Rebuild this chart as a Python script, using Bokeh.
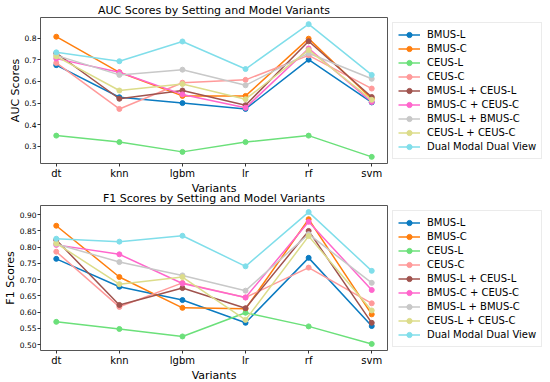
from bokeh.plotting import figure
from bokeh.models import Legend, FixedTicker, Range1d, CustomJSTickFormatter
from bokeh.layouts import column
from bokeh.embed import file_html
from bokeh.resources import INLINE

variants = ["dt", "knn", "lgbm", "lr", "rf", "svm"]
series_names = ["BMUS-L", "BMUS-C", "CEUS-L", "CEUS-C", "BMUS-L + CEUS-L",
                "BMUS-C + CEUS-C", "BMUS-L + BMUS-C", "CEUS-L + CEUS-C",
                "Dual Modal Dual View"]
colors = ["#0b7bc1", "#ff7f0e", "#6be07a", "#ff9a9a", "#a0534e",
          "#ff66cc", "#c8c8c8", "#dcdc8a", "#80deea"]

auc_bmus_l = [0.675, 0.527, 0.500, 0.473, 0.700, 0.503]
auc_bmus_c = [0.806, 0.642, 0.533, 0.533, 0.797, 0.520]
auc_ceus_l = [0.350, 0.320, 0.275, 0.320, 0.350, 0.252]
auc_ceus_c = [0.685, 0.473, 0.594, 0.607, 0.720, 0.567]
auc_bl_cl = [0.730, 0.520, 0.558, 0.490, 0.785, 0.528]
auc_bc_cc = [0.705, 0.642, 0.540, 0.478, 0.752, 0.505]
auc_bl_bc = [0.720, 0.630, 0.654, 0.582, 0.730, 0.612]
auc_cl_cc = [0.715, 0.558, 0.588, 0.518, 0.745, 0.515]
auc_dmdv = [0.734, 0.693, 0.784, 0.657, 0.864, 0.630]

f1_bmus_l = [0.764, 0.678, 0.637, 0.567, 0.767, 0.557]
f1_bmus_c = [0.866, 0.708, 0.613, 0.610, 0.886, 0.593]
f1_ceus_l = [0.570, 0.548, 0.525, 0.598, 0.556, 0.502]
f1_ceus_c = [0.786, 0.616, 0.690, 0.645, 0.737, 0.627]
f1_bl_cl = [0.822, 0.622, 0.674, 0.612, 0.850, 0.567]
f1_bc_cc = [0.807, 0.778, 0.688, 0.645, 0.878, 0.668]
f1_bl_bc = [0.810, 0.754, 0.713, 0.666, 0.840, 0.690]
f1_cl_cc = [0.812, 0.686, 0.708, 0.576, 0.834, 0.605]
f1_dmdv = [0.826, 0.817, 0.835, 0.741, 0.908, 0.727]

auc_series = [auc_bmus_l, auc_bmus_c, auc_ceus_l, auc_ceus_c, auc_bl_cl,
              auc_bc_cc, auc_bl_bc, auc_cl_cc, auc_dmdv]
f1_series = [f1_bmus_l, f1_bmus_c, f1_ceus_l, f1_ceus_c, f1_bl_cl,
             f1_bc_cc, f1_bl_bc, f1_cl_cc, f1_dmdv]

auc_ticks = [0.3, 0.4, 0.5, 0.6, 0.7, 0.8]
f1_ticks = [0.50, 0.55, 0.60, 0.65, 0.70, 0.75, 0.80, 0.85, 0.90]

FONT = "DejaVu Sans"


def make_plot(title, ylabel, series, yticks, ydigits, frame_h):
    allv = [v for s in series for v in s]
    lo, hi = min(allv), max(allv)
    pad = (hi - lo) * 0.05
    xs = list(range(len(variants)))
    p = figure(title=title, frame_width=347, frame_height=frame_h,
               output_backend="svg", toolbar_location=None,
               x_range=Range1d(-0.25, len(variants) - 0.75),
               y_range=Range1d(lo - pad, hi + pad),
               min_border_left=34, min_border_right=0, min_border_top=0,
               min_border_bottom=0)
    p.title.text_font = FONT
    p.title.text_font_size = "11px"
    p.title.text_font_style = "normal"
    p.title.text_color = "black"
    p.title.align = "center"
    p.title.standoff = 2
    p.title.offset = 0
    p.xgrid.visible = False
    p.ygrid.visible = False
    p.outline_line_color = "#555555"
    p.outline_line_width = 1
    p.background_fill_color = "white"
    p.border_fill_color = None

    items = []
    for name, col, ys in zip(series_names, colors, series):
        r1 = p.line(xs, ys, line_color=col, line_width=1.5)
        r2 = p.scatter(xs, ys, size=5, fill_color=col, line_color=col)
        items.append((name, [r1, r2]))

    for ax in (p.xaxis, p.yaxis):
        ax.axis_line_color = None
        ax.major_tick_line_color = "#333333"
        ax.major_tick_in = 0
        ax.major_tick_out = 3
        ax.minor_tick_line_color = None
        ax.axis_label_text_font = FONT
        ax.axis_label_text_font_size = "11px"
        ax.axis_label_text_font_style = "normal"
        ax.axis_label_text_color = "black"
        ax.major_label_text_font = FONT
        ax.major_label_text_color = "black"
        ax.axis_label_standoff = 0
        ax.major_label_standoff = 1
    p.xaxis.ticker = FixedTicker(ticks=xs)
    p.xaxis.major_label_overrides = {i: v for i, v in enumerate(variants)}
    p.xaxis.major_label_text_font_size = "10px"
    p.xaxis.axis_label = "Variants"
    p.yaxis.ticker = FixedTicker(ticks=yticks)
    p.yaxis.major_label_text_font_size = "7.5px"
    p.yaxis.formatter = CustomJSTickFormatter(
        code="return tick.toFixed(%d);" % ydigits)
    p.yaxis.axis_label = ylabel

    leg = Legend(items=items, location="top_left")
    leg.label_text_font = FONT
    leg.label_text_font_size = "10px"
    leg.label_text_color = "black"
    leg.glyph_width = 22
    leg.glyph_height = 13
    leg.label_height = 13
    leg.spacing = 1
    leg.padding = 5
    leg.margin = 5
    leg.label_standoff = 7
    leg.border_line_color = "#d8d8d8"
    leg.border_line_width = 1
    leg.background_fill_alpha = 1
    p.add_layout(leg, "right")
    return p


p1 = make_plot("AUC Scores by Setting and Model Variants", "AUC Scores",
               auc_series, auc_ticks, 1, 146)
p2 = make_plot("F1 Scores by Setting and Model Variants", "F1 Scores",
               f1_series, f1_ticks, 2, 145)
p2.margin = (-9, 0, 0, 0)

p = column(p1, p2, spacing=0)
open("out.html", "w").write(file_html(p, INLINE))
